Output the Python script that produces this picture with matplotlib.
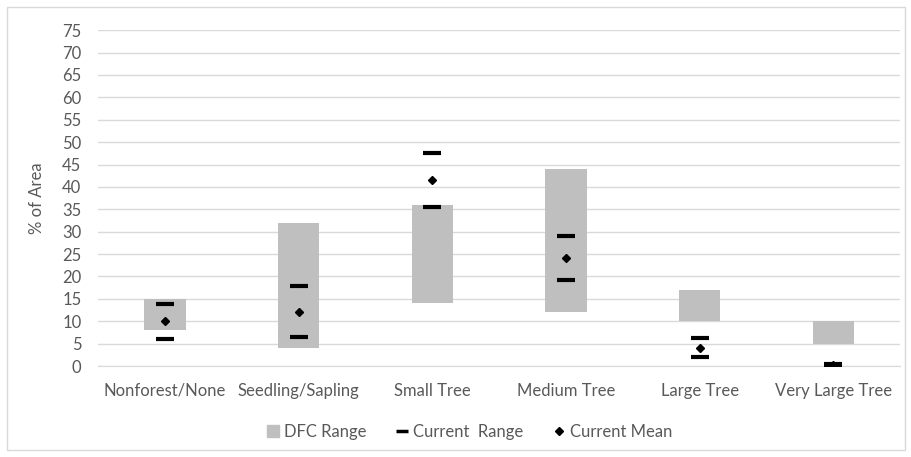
#!/usr/bin/env python3
"""
DFC range vs current range / mean by size class
"""
import matplotlib.pyplot as plt
from matplotlib.lines import Line2D
from matplotlib.patches import Rectangle
import numpy as np

plt.rcParams['font.family'] = ['Lato', 'DejaVu Sans']

CATEGORIES = ['Nonforest/None', 'Seedling/Sapling', 'Small Tree',
              'Medium Tree', 'Large Tree', 'Very Large Tree']

DFC_LOW = [8, 4, 14, 12, 10, 5]
DFC_HIGH = [15, 32, 36, 44, 17, 10]

CUR_LOW = [6.0, 6.5, 35.6, 19.3, 2.1, 0.0]
CUR_HIGH = [13.8, 17.9, 47.5, 29.0, 6.3, 0.5]
CUR_MEAN = [10.0, 12.0, 41.5, 24.2, 4.1, 0.2]

GRAY = '#bfbfbf'
TEXT = '#595959'

fig = plt.figure(figsize=(9.12, 4.57), dpi=100)
ax = fig.add_axes([0.1075, 0.199, 0.8795, 0.735])

x = np.arange(len(CATEGORIES))
heights = [h - l for l, h in zip(DFC_LOW, DFC_HIGH)]
ax.bar(x, heights, bottom=DFC_LOW, width=0.31, color=GRAY, zorder=2)
ax.plot(x, CUR_HIGH, linestyle='none', marker='_', ms=13, mew=3,
        color='black', zorder=3)
ax.plot(x, CUR_LOW, linestyle='none', marker='_', ms=13, mew=3,
        color='black', zorder=3)
ax.plot(x, CUR_MEAN, linestyle='none', marker='D', ms=4.5,
        color='black', zorder=4)

ax.set_xlim(-0.5, len(CATEGORIES) - 0.5)
ax.set_ylim(0, 75)
ax.set_yticks(np.arange(0, 80, 5))
ax.set_xticks(x)
ax.set_xticklabels(CATEGORIES)
ax.tick_params(axis='both', length=0, labelsize=12, labelcolor=TEXT)
ax.tick_params(axis='x', pad=12)
ax.tick_params(axis='y', pad=12)
ax.grid(axis='y', color='#d9d9d9', linewidth=1, zorder=0)
for side in ('top', 'right', 'left'):
    ax.spines[side].set_visible(False)
ax.spines['bottom'].set_color('#d9d9d9')
ax.set_ylabel('% of Area', fontsize=12, color=TEXT, labelpad=12)

handles = [
    Line2D([], [], linestyle='none', marker='s', ms=8, color=GRAY),
    Line2D([], [], linestyle='none', marker='_', ms=9, mew=2.5, color='black'),
    Line2D([], [], linestyle='none', marker='D', ms=4, color='black'),
]
labels = ['DFC Range', 'Current  Range', 'Current Mean']
fig.legend(handles, labels, loc='center', bbox_to_anchor=(0.515, 0.055),
           ncol=3, frameon=False, fontsize=12, labelcolor=TEXT,
           handlelength=0.7, handletextpad=0.3, columnspacing=1.8)

fig.patches.append(Rectangle((0.008, 0.015), 0.984, 0.97,
                             transform=fig.transFigure, fill=False,
                             edgecolor='#d9d9d9', linewidth=1))

fig.savefig('out.png', dpi=100)
